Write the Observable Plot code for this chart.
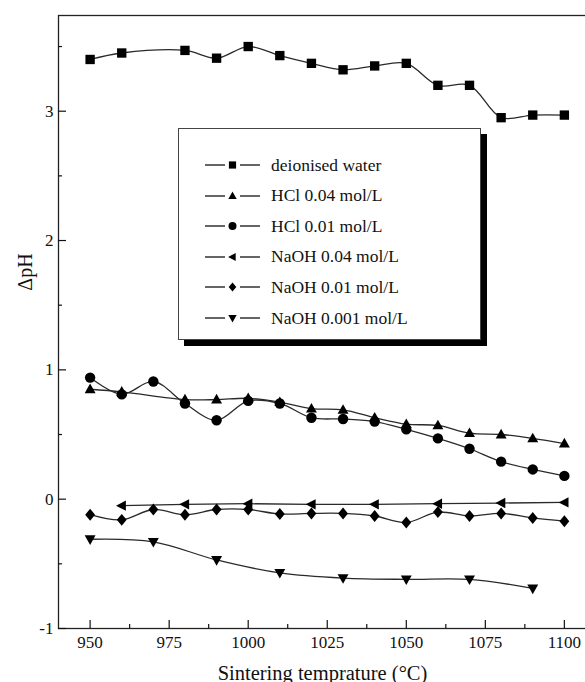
<!DOCTYPE html>
<html><head><meta charset="utf-8">
<script src="https://cdn.jsdelivr.net/npm/d3@7"></script>
<script src="https://cdn.jsdelivr.net/npm/@observablehq/plot@0.6"></script>
<style>
body{margin:0;background:#fff;}
#wrap{position:relative;width:585px;height:682px;overflow:hidden;background:#fff;}
#legend{position:absolute;left:178px;top:128px;width:301px;height:210px;border:1px solid #444;box-shadow:6px 6px 0 #000;background:#fff;font-family:"Liberation Serif","Times New Roman",serif;font-size:17.5px;color:#111;}
.row{position:absolute;left:26px;height:20px;display:flex;align-items:center;white-space:nowrap;}
.row svg{display:block;margin-right:10px;}
</style>
</head><body>
<div id="wrap"><div id="chart"></div><div id="legend"></div></div>
<script>
// ---- data ----
const waterT = [950,960,980,990,1000,1010,1020,1030,1040,1050,1060,1070,1080,1090,1100];
const waterV = [3.40,3.45,3.47,3.41,3.50,3.43,3.37,3.32,3.35,3.37,3.20,3.20,2.95,2.97,2.97];
const hcl04T = [950,960,980,990,1000,1010,1020,1030,1040,1050,1060,1070,1080,1090,1100];
const hcl04V = [0.85,0.83,0.77,0.77,0.78,0.75,0.70,0.69,0.63,0.58,0.57,0.51,0.50,0.47,0.43];
const hcl01T = [950,960,970,980,990,1000,1010,1020,1030,1040,1050,1060,1070,1080,1090,1100];
const hcl01V = [0.94,0.81,0.91,0.74,0.61,0.76,0.74,0.63,0.62,0.60,0.54,0.47,0.39,0.29,0.23,0.18];
const naoh04T = [960,980,1000,1020,1040,1060,1080,1100];
const naoh04V = [-0.05,-0.04,-0.035,-0.04,-0.04,-0.035,-0.03,-0.025];
const naoh01T = [950,960,970,980,990,1000,1010,1020,1030,1040,1050,1060,1070,1080,1090,1100];
const naoh01V = [-0.12,-0.16,-0.08,-0.12,-0.08,-0.08,-0.115,-0.11,-0.11,-0.13,-0.18,-0.10,-0.13,-0.11,-0.145,-0.17];
const naoh001T = [950,970,990,1010,1030,1050,1070,1090];
const naoh001V = [-0.31,-0.33,-0.47,-0.57,-0.61,-0.62,-0.62,-0.69];
const seriesNames = ["deionised water","HCl 0.04 mol/L","HCl 0.01 mol/L","NaOH 0.04 mol/L","NaOH 0.01 mol/L","NaOH 0.001 mol/L"];
const xMajorTicks = [950,975,1000,1025,1050,1075,1100];
const xMinorTicks = [962.5,987.5,1012.5,1037.5,1062.5,1087.5];
const yMajorTicks = [-1,0,1,2,3];
const yMinorTicks = [-0.5,0.5,1.5,2.5,3.5];
const xLabel = "Sintering temprature (\u00B0C)";
const yLabel = "\u0394pH";

// ---- custom marker shapes ----
const poly = pts => ({draw(ctx, size){
  const r = Math.sqrt(size/Math.PI);
  ctx.moveTo(pts[0][0]*r, pts[0][1]*r);
  for (let i=1;i<pts.length;i++) ctx.lineTo(pts[i][0]*r, pts[i][1]*r);
  ctx.closePath();
}});
const SQUARE = poly([[-0.9,-0.9],[0.9,-0.9],[0.9,0.9],[-0.9,0.9]]);
const TRI_UP = poly([[0,-1.1],[1.05,0.75],[-1.05,0.75]]);
const TRI_LEFT = poly([[-1.1,0],[0.8,-1.0],[0.8,1.0]]);
const TRI_DOWN = poly([[0,1.1],[1.05,-0.75],[-1.05,-0.75]]);
const DIAMOND = poly([[0,-1.15],[0.95,0],[0,1.15],[-0.95,0]]);
const CIRCLE = {draw(ctx,size){const r=Math.sqrt(size/Math.PI); ctx.moveTo(r,0); ctx.arc(0,0,r,0,2*Math.PI);}};

const seriesT = [waterT,hcl04T,hcl01T,naoh04T,naoh01T,naoh001T];
const seriesV = [waterV,hcl04V,hcl01V,naoh04V,naoh01V,naoh001V];
const symbols = [SQUARE,TRI_UP,CIRCLE,TRI_LEFT,DIAMOND,TRI_DOWN];
const curves = ["catmull-rom","catmull-rom","catmull-rom","linear","catmull-rom","catmull-rom"];

const series = seriesNames.map((name,i)=>({
  name, symbol: symbols[i], curve: curves[i],
  data: seriesT[i].map((t,j)=>({t, v: seriesV[i][j]}))
}));

const font = '"Liberation Serif","Times New Roman",serif';
const marks = [];
for (const s of series) {
  marks.push(Plot.line(s.data, {x:"t", y:"v", curve:s.curve, stroke:"#2a2a2a", strokeWidth:1.3}));
  marks.push(Plot.dot(s.data, {x:"t", y:"v", symbol:s.symbol, r:5.2, fill:"#000", stroke:"none"}));
}

const chart = Plot.plot({
  width: 585, height: 682,
  marginLeft: 58, marginRight: -1, marginTop: 15, marginBottom: 54,
  style: {fontFamily: font, fontSize: "17px", color:"#111", background:"#fff"},
  x: {domain:[940,1107]},
  y: {domain:[-1,3.74]},
  marks: [
    ...marks,
    Plot.frame({stroke:"#222", strokeWidth:1.3}),
    Plot.axisY({ticks:yMajorTicks, tickSize:-8, tickPadding:13, tickFormat:d=>String(d), fontSize:17, label:null, strokeWidth:1.2}),
    Plot.axisY({ticks:yMinorTicks, tickSize:-4, tickFormat:()=>"", label:null, strokeWidth:1.2}),
    Plot.axisX({ticks:xMajorTicks, tickSize:-8, tickPadding:15, tickFormat:d=>String(d), fontSize:17, strokeWidth:1.2, label:null}),
    Plot.axisX({ticks:xMinorTicks, tickSize:-4, tickFormat:()=>"", label:null, strokeWidth:1.2}),
    Plot.text([xLabel], {frameAnchor:"bottom", dy:51, fontSize:20.5, fill:"#111"}),
    Plot.text([yLabel], {frameAnchor:"left", rotate:-90, textAnchor:"middle", dx:-33, dy:-50, fontSize:20, fill:"#111"})
  ]
});
document.getElementById("chart").appendChild(chart);

// ---- legend ----
const legend = d3.select("#legend");
series.forEach((s,i)=>{
  const row = legend.append("div").attr("class","row").style("top", (26 + i*30.6) + "px");
  const svg = row.append("svg").attr("width",56).attr("height",20);
  svg.append("line").attr("x1",0).attr("x2",20).attr("y1",10).attr("y2",10).attr("stroke","#111").attr("stroke-width",1.3);
  svg.append("line").attr("x1",35).attr("x2",55).attr("y1",10).attr("y2",10).attr("stroke","#111").attr("stroke-width",1.3);
  svg.append("path").attr("transform","translate(27.5,10)").attr("d", d3.symbol(s.symbol, Math.PI*16)()).attr("fill","#000");
  row.append("span").text(s.name);
});
</script>
</body></html>
